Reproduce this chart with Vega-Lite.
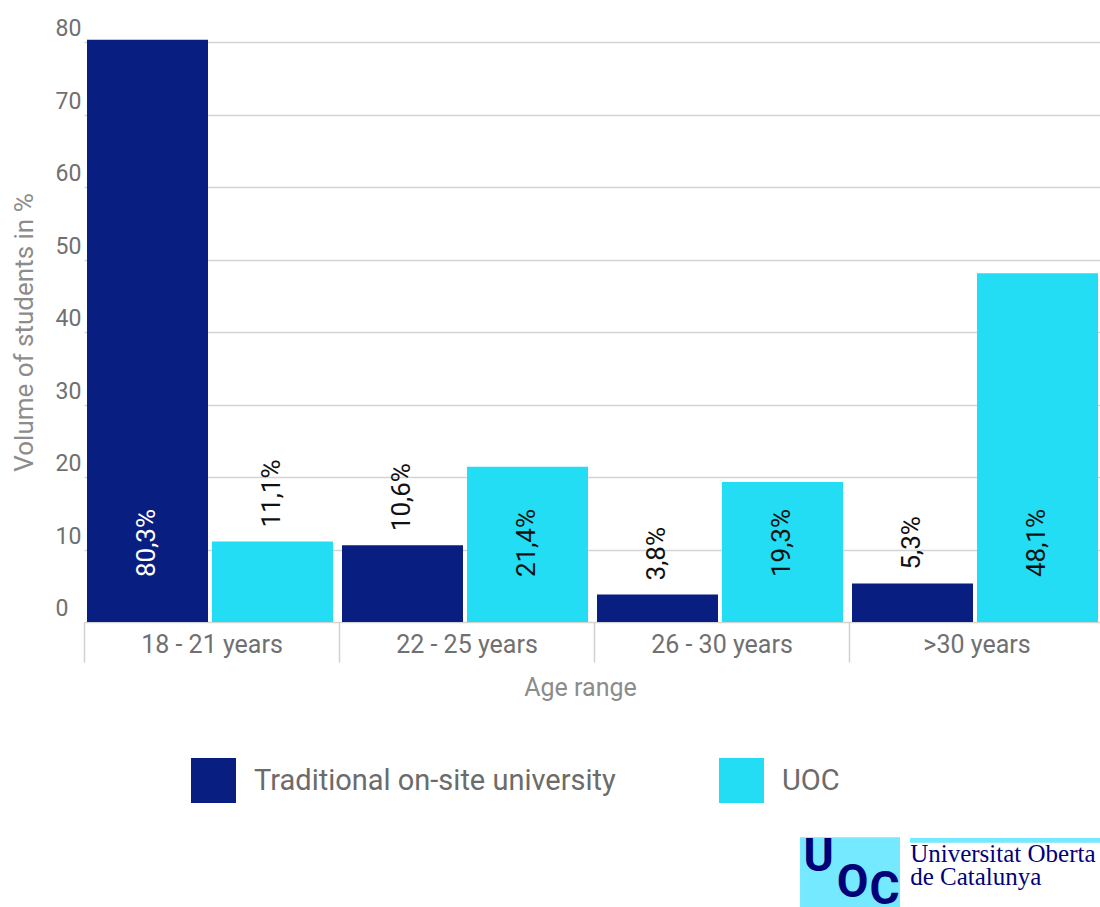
{
  "$schema": "https://vega.github.io/schema/vega-lite/v6.json",
  "width": 1045,
  "height": 580,
  "autosize": {"type": "none"},
  "padding": {"left": 55, "top": 42, "right": 0, "bottom": 285},
  "background": "#ffffff",
  "config": {
    "view": {"stroke": null},
    "font": "Roboto",
    "text": {"font": "Roboto"}
  },
  "datasets": {
    "bars": [
      {"age": "18 - 21 years", "university": "Traditional on-site university", "value": 80.3, "label": "80,3%"},
      {"age": "18 - 21 years", "university": "UOC", "value": 11.1, "label": "11,1%"},
      {"age": "22 - 25 years", "university": "Traditional on-site university", "value": 10.6, "label": "10,6%"},
      {"age": "22 - 25 years", "university": "UOC", "value": 21.4, "label": "21,4%"},
      {"age": "26 - 30 years", "university": "Traditional on-site university", "value": 3.8, "label": "3,8%"},
      {"age": "26 - 30 years", "university": "UOC", "value": 19.3, "label": "19,3%"},
      {"age": ">30 years", "university": "Traditional on-site university", "value": 5.3, "label": "5,3%"},
      {"age": ">30 years", "university": "UOC", "value": 48.1, "label": "48,1%"}
    ],
    "one": [{}]
  },
  "data": {"name": "bars"},
  "layer": [
    {
      "mark": {"type": "bar"},
      "encoding": {
        "x": {
          "field": "age",
          "type": "nominal",
          "scale": {"domain": ["18 - 21 years", "22 - 25 years", "26 - 30 years", ">30 years"], "range": [29, 1049], "paddingInner": 0, "paddingOuter": 0},
          "axis": {
            "title": "Age range",
            "domain": false,
            "grid": false,
            "ticks": true,
            "tickBand": "extent",
            "tickSize": 40,
            "tickColor": "#d0d0d0",
            "tickWidth": 1.5,
            "labelPadding": -30,
            "labelAngle": 0,
            "labelFontSize": 25,
            "labelColor": "#707070",
            "labelFont": "Roboto",
            "titleFont": "Roboto",
            "titleFontSize": 25,
            "titleFontWeight": "normal",
            "titleColor": "#8c8c8c",
            "titlePadding": 13,
            "titleX": 525,
            "titleAlign": "center"
          }
        },
        "xOffset": {
          "field": "university",
          "type": "nominal",
          "scale": {"domain": ["Traditional on-site university", "UOC"], "range": [3, 249], "paddingInner": 0.032, "paddingOuter": 0}
        },
        "y": {
          "field": "value",
          "type": "quantitative",
          "scale": {"domain": [0, 80], "nice": false},
          "axis": {
            "title": "Volume of students in %",
            "values": [0, 10, 20, 30, 40, 50, 60, 70, 80],
            "domain": false,
            "ticks": false,
            "grid": true,
            "gridColor": "#d4d4d4",
            "gridWidth": 1.5,
            "labelAlign": "left",
            "labelBaseline": "alphabetic",
            "labelPadding": 0,
            "labelOffset": -6.5,
            "labelFontSize": 23,
            "labelColor": "#707070",
            "labelFont": "Roboto",
            "titleFont": "Roboto",
            "titleFontSize": 26,
            "titleFontWeight": "normal",
            "titleColor": "#8c8c8c",
            "titlePadding": 18
          }
        },
        "color": {
          "field": "university",
          "type": "nominal",
          "scale": {"domain": ["Traditional on-site university", "UOC"], "range": ["#081E80", "#22DDF3"]},
          "legend": {
            "title": null,
            "orient": "none",
            "legendX": 136,
            "legendY": 716,
            "direction": "horizontal",
            "symbolType": "square",
            "symbolSize": 2025,
            "symbolStrokeWidth": 0,
            "symbolOpacity": 1,
            "labelFont": "Roboto",
            "labelFontSize": 29,
            "labelColor": "#6b6b6b",
            "labelOffset": 18,
            "labelLimit": 0,
            "columnPadding": 103,
            "padding": 0
          }
        }
      }
    },
    {
      "transform": [{"filter": "datum.value > 15"}],
      "mark": {"type": "text", "angle": 270, "align": "left", "baseline": "middle", "dy": -1, "fontSize": 26, "font": "Roboto"},
      "encoding": {
        "x": {"field": "age", "type": "nominal"},
        "xOffset": {"field": "university", "type": "nominal"},
        "y": {"datum": 6.2, "type": "quantitative"},
        "text": {"field": "label"},
        "color": {"condition": {"test": "datum.university === 'Traditional on-site university'", "value": "#ffffff"}, "value": "#111111"}
      }
    },
    {
      "transform": [{"filter": "datum.value <= 15"}],
      "mark": {"type": "text", "angle": 270, "align": "left", "baseline": "middle", "dx": 14, "dy": -1, "fontSize": 26, "font": "Roboto", "color": "#111111"},
      "encoding": {
        "x": {"field": "age", "type": "nominal"},
        "xOffset": {"field": "university", "type": "nominal"},
        "y": {"field": "value", "type": "quantitative"},
        "text": {"field": "label"}
      }
    },
    {
      "data": {"name": "one"},
      "mark": {"type": "rect", "color": "#75E9FF"},
      "encoding": {
        "x": {"datum": "26 - 30 years", "type": "nominal", "bandPosition": 0.808},
        "x2": {"datum": ">30 years", "bandPosition": 0.2},
        "y": {"datum": -29.7, "type": "quantitative"},
        "y2": {"datum": -39.6}
      }
    },
    {
      "data": {"name": "one"},
      "mark": {"type": "rect", "color": "#75E9FF"},
      "encoding": {
        "x": {"datum": ">30 years", "type": "nominal", "bandPosition": 0.239},
        "x2": {"datum": ">30 years", "bandPosition": 1},
        "y": {"datum": -29.8, "type": "quantitative"},
        "y2": {"datum": -30.45}
      }
    },
    {
      "data": {"name": "one"},
      "mark": {"type": "text", "text": "U", "align": "left", "baseline": "alphabetic", "font": "Roboto", "fontWeight": "bold", "fontSize": 46, "color": "#000078"},
      "encoding": {
        "x": {"datum": "26 - 30 years", "type": "nominal", "bandPosition": 0.822},
        "y": {"datum": -34.4, "type": "quantitative"}
      }
    },
    {
      "data": {"name": "one"},
      "mark": {"type": "text", "text": "O", "align": "left", "baseline": "alphabetic", "font": "Roboto", "fontWeight": "bold", "fontSize": 46, "color": "#000078"},
      "encoding": {
        "x": {"datum": "26 - 30 years", "type": "nominal", "bandPosition": 0.952},
        "y": {"datum": -37.9, "type": "quantitative"}
      }
    },
    {
      "data": {"name": "one"},
      "mark": {"type": "text", "text": "C", "align": "left", "baseline": "alphabetic", "font": "Roboto", "fontWeight": "bold", "fontSize": 46, "color": "#000078"},
      "encoding": {
        "x": {"datum": ">30 years", "type": "nominal", "bandPosition": 0.08},
        "y": {"datum": -38.9, "type": "quantitative"}
      }
    },
    {
      "data": {"name": "one"},
      "mark": {"type": "text", "text": "Universitat Oberta", "align": "left", "baseline": "alphabetic", "font": "Liberation Serif", "fontSize": 25, "color": "#000078"},
      "encoding": {
        "x": {"datum": ">30 years", "type": "nominal", "bandPosition": 0.24},
        "y": {"datum": -33.1, "type": "quantitative"}
      }
    },
    {
      "data": {"name": "one"},
      "mark": {"type": "text", "text": "de Catalunya", "align": "left", "baseline": "alphabetic", "font": "Liberation Serif", "fontSize": 25, "color": "#000078"},
      "encoding": {
        "x": {"datum": ">30 years", "type": "nominal", "bandPosition": 0.24},
        "y": {"datum": -36.3, "type": "quantitative"}
      }
    }
  ]
}
